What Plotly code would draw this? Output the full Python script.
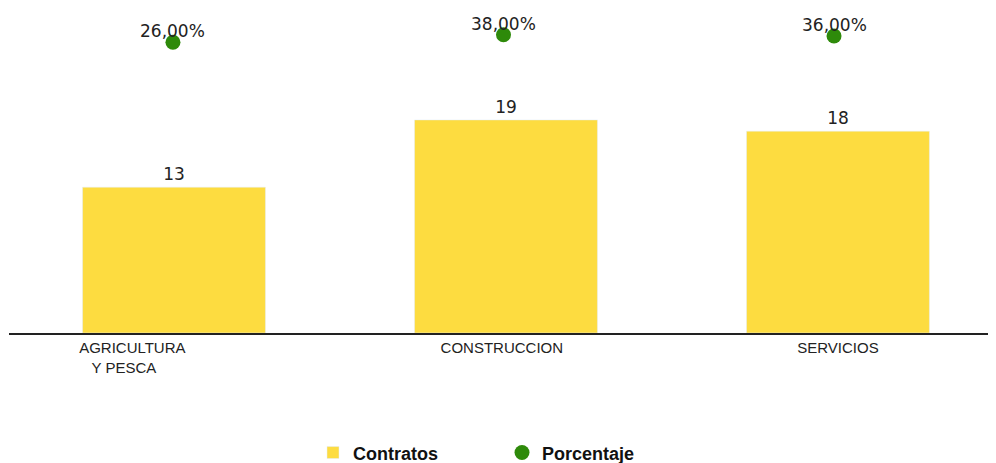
import plotly.graph_objects as go

categories = ["AGRICULTURA", "CONSTRUCCION", "SERVICIOS"]
NB = "\u00a0"
tick_labels = ["AGRICULTURA" + NB * 20 + "<br>Y PESCA" + NB * 24, "CONSTRUCCION" + NB * 2, "SERVICIOS"]
contratos = [13, 19, 18]
porcentaje = [26, 38, 36]
porcentaje_text = ["26,00%", "38,00%", "36,00%"]

fig = go.Figure()
fig.add_trace(go.Bar(
    x=categories, y=contratos, name="Contratos",
    marker=dict(color="#FDDC40"),
    text=[str(v) for v in contratos], textposition="outside",
    textfont=dict(family="DejaVu Sans", size=17, color="#222222"),
    cliponaxis=False,
))
fig.add_trace(go.Scatter(
    x=categories, y=porcentaje, name="Porcentaje", xaxis="x2", yaxis="y2",
    mode="markers",
    marker=dict(color="#2E8A0A", size=15),
    cliponaxis=False,
))
for c, p, t in zip(categories, porcentaje, porcentaje_text):
    fig.add_annotation(x=c, y=p, xref="x2", yref="y2", text=t, showarrow=False,
                       yshift=11, font=dict(family="DejaVu Sans", size=17, color="#222222"))

fig.update_layout(
    width=988, height=455,
    margin=dict(l=1, r=0, t=2, b=130, autoexpand=False),
    paper_bgcolor="white", plot_bgcolor="white",
    bargap=0.449,
    showlegend=True,
    legend=dict(orientation="h", x=0.4995, xanchor="center", y=-0.371, yanchor="middle",
                font=dict(family="Liberation Sans", size=18, color="#111111", weight="bold"),
                itemwidth=30, traceorder="normal", entrywidth=144),
    xaxis=dict(showline=True, linecolor="#222222", linewidth=2,
               type="category", range=[-0.497, 2.476],
               tickvals=categories, ticktext=tick_labels,
               tickfont=dict(family="Liberation Sans", size=15, color="#222222"),
               showgrid=False, ticks=""),
    xaxis2=dict(type="category", range=[-0.496, 2.490], overlaying="x", visible=False,
                showgrid=False),
    yaxis=dict(range=[0, 28.8], visible=False, showgrid=False, zeroline=False),
    yaxis2=dict(range=[-448.5, 78.5], overlaying="y", visible=False, showgrid=False, zeroline=False),
)

fig.write_html("out.html")
